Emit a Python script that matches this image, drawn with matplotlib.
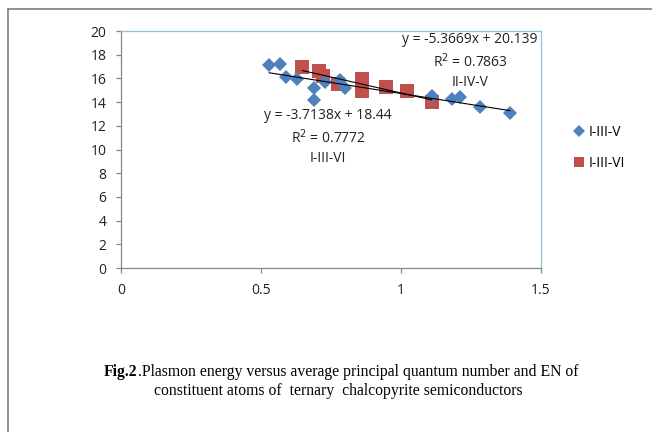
#!/usr/bin/env python3
"""Plasmon energy versus average principal quantum number and EN (Fig.2)."""

import matplotlib
matplotlib.use("Agg")
import matplotlib.pyplot as plt
from matplotlib.lines import Line2D

# I-III-V points (blue diamonds)
x_135 = [0.529, 0.568, 0.588, 0.627, 0.69, 0.69, 0.729, 0.782, 0.80,
         1.11, 1.181, 1.21, 1.282, 1.389]
y_135 = [17.15, 17.2, 16.15, 15.95, 15.15, 14.15, 15.7, 15.9, 15.15,
         14.55, 14.25, 14.45, 13.6, 13.05]

# I-III-VI points (red squares)
x_136 = [0.648, 0.707, 0.723, 0.776, 0.86, 0.86, 0.945, 1.02, 1.11]
y_136 = [17.0, 16.65, 16.2, 15.5, 15.95, 14.9, 15.3, 14.9, 14.05]

# trendline coefficients as printed on the chart
fit_a = (-3.7138, 18.44)
fit_b = (-5.3669, 20.139)

blue = "#4F81BD"
red = "#C0504D"
grey = "#868686"
frame_blue = "#8EC3D6"

fig = plt.figure(figsize=(6.52, 4.32), dpi=100)
ax = fig.add_axes([0.1856, 0.3796, 0.8298 - 0.1856, 0.9282 - 0.3796])

ax.plot(x_135, y_135, "D", color=blue, markersize=7.2, markeredgewidth=0,
        label="I-III-V", zorder=3)
ax.plot(x_136, y_136, "s", color=red, markersize=9.6, markeredgewidth=0,
        label="I-III-VI", zorder=2)

xa = [min(x_135), max(x_135)]
ax.plot(xa, [fit_a[0] * v + fit_a[1] for v in xa], color="black", lw=0.8, zorder=4)
xb = [min(x_136), max(x_136)]
ax.plot(xb, [fit_b[0] * v + fit_b[1] for v in xb], color="black", lw=0.8, zorder=4)

ax.set_xlim(0, 1.5)
ax.set_ylim(0, 20)
ax.set_xticks([0, 0.5, 1, 1.5])
ax.set_xticklabels(["0", "0.5", "1", "1.5"])
ax.set_yticks(range(0, 21, 2))

ax.spines["left"].set_color(grey)
ax.spines["bottom"].set_color(grey)
ax.spines["top"].set_color(frame_blue)
ax.spines["right"].set_color(frame_blue)
for s in ax.spines.values():
    s.set_linewidth(0.9)
ax.tick_params(axis="both", direction="out", length=3.6, width=0.9, color=grey,
               labelsize=10, labelcolor="#222222")
ax.tick_params(axis="y", pad=7)
ax.tick_params(axis="x", pad=7)
for lab in ax.get_xticklabels() + ax.get_yticklabels():
    lab.set_fontfamily("Open Sans")

txt = dict(fontsize=10, family="Open Sans", color="#222222", ha="center",
           va="center", linespacing=1.35)
fig.text(470 / 652, 1 - 61 / 432, "y = -5.3669x + 20.139\nR$^2$ = 0.7863\nII-IV-V", **txt)
fig.text(328 / 652, 1 - 137 / 432, "y = -3.7138x + 18.44\nR$^2$ = 0.7772\nI-III-VI", **txt)

leg = fig.legend(loc="upper left", bbox_to_anchor=(561 / 652, 1 - 112 / 432),
                 frameon=False, prop={"family": "Open Sans", "size": 10},
                 handlelength=0.8, handletextpad=0.3, labelspacing=1.2,
                 markerscale=0.8)

# outer frame lines (top and left)
fig.add_artist(Line2D([8 / 652, 1], [1 - 9 / 432, 1 - 9 / 432], color="#7f7f7f", lw=1.2))
fig.add_artist(Line2D([8 / 652, 8 / 652], [0, 1 - 9 / 432], color="#7f7f7f", lw=1.2))

# caption, bold "Fig.2" followed by the rest
cap = dict(fontsize=11.3, family="Liberation Serif", color="black", va="baseline")
t1 = fig.text(104 / 652, 1 - 376.5 / 432, "Fig.2", fontweight="bold", **cap)
ax.annotate(".Plasmon energy versus average principal quantum number and EN of",
            xy=(1, 0), xycoords=t1, va="bottom", ha="left",
            fontsize=11.3, family="Liberation Serif", color="black")
fig.text(338 / 652, 1 - 395 / 432,
         "constituent atoms of  ternary  chalcopyrite semiconductors",
         ha="center", **cap)

fig.savefig("out.png", dpi=100)
